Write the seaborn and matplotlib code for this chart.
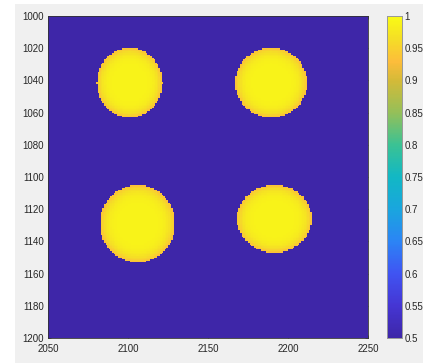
import numpy as np
import pandas as pd
import matplotlib
matplotlib.use("Agg")
import matplotlib.pyplot as plt
from matplotlib.colors import LinearSegmentedColormap
from matplotlib.patches import Rectangle
import seaborn as sns

# Blob centres and radii (data units)
blob_cx = [2101.0, 2189.5, 2106.0, 2191.5]
blob_cy = [1041.5, 1041.5, 1129.0, 1126.0]
blob_rx = [20.5, 22.5, 23.5, 23.5]
blob_ry = [21.7, 21.7, 24.0, 21.0]
inside_max = 0.99
rim_drop = 0.06
background = 0.5

x_ticks = [2050, 2100, 2150, 2200, 2250]
y_ticks = [1000, 1020, 1040, 1060, 1080, 1100, 1120, 1140, 1160, 1180, 1200]
cbar_ticks = [0.5, 0.55, 0.6, 0.65, 0.7, 0.75, 0.8, 0.85, 0.9, 0.95, 1]
cbar_labels = ["0.5", "0.55", "0.6", "0.65", "0.7", "0.75", "0.8",
               "0.85", "0.9", "0.95", "1"]

# parula-like colormap
parula = LinearSegmentedColormap.from_list("parula", [
    (0.00, (0.2422, 0.1504, 0.6603)),
    (0.10, (0.27, 0.21, 0.83)),
    (0.20, (0.25, 0.33, 0.95)),
    (0.30, (0.17, 0.52, 0.96)),
    (0.40, (0.10, 0.65, 0.87)),
    (0.50, (0.07, 0.72, 0.77)),
    (0.60, (0.23, 0.76, 0.58)),
    (0.70, (0.58, 0.75, 0.35)),
    (0.80, (0.83, 0.73, 0.22)),
    (0.86, (0.99, 0.74, 0.23)),
    (0.93, (0.96, 0.87, 0.15)),
    (1.00, (0.9769, 0.9839, 0.0805)),
])

# build image grid (1 unit cells)
xc = np.arange(2050, 2250) + 0.5
yc = np.arange(1000, 1200) + 0.5
X, Y = np.meshgrid(xc, yc)
img = np.full(X.shape, background)
for cx, cy, rx, ry in zip(blob_cx, blob_cy, blob_rx, blob_ry):
    rho = np.sqrt(((X - cx) / rx) ** 2 + ((Y - cy) / ry) ** 2)
    inside = rho <= 1
    img[inside] = inside_max - rim_drop * rho[inside] ** 6
df = pd.DataFrame(img, index=yc, columns=xc)

sns.set_style("white")
plt.rcParams['font.family'] = ['Liberation Sans', 'DejaVu Sans']

fig = plt.figure(figsize=(4.23, 3.64), dpi=100, facecolor="white")
fig.patches.append(Rectangle((15 / 423, 1 / 364), 408 / 423, 359 / 364,
                             transform=fig.transFigure, facecolor="#f0f0f0",
                             edgecolor="none", zorder=-10))
ax = fig.add_axes([48 / 423, 1 - 338 / 364, 320 / 423, 322 / 364])
cax = fig.add_axes([387 / 423, 1 - 338 / 364, 15 / 423, 322 / 364])

sns.heatmap(df, ax=ax, cbar_ax=cax, cmap=parula, vmin=0.5, vmax=1,
            xticklabels=False, yticklabels=False, rasterized=True)

ax.set_xticks([t - 2050 for t in x_ticks])
ax.set_xticklabels([str(t) for t in x_ticks])
ax.set_yticks([t - 1000 for t in y_ticks])
ax.set_yticklabels([str(t) for t in y_ticks], rotation=0)
ax.set_xlabel("")
ax.set_ylabel("")
for sp in ax.spines.values():
    sp.set_visible(True)
    sp.set_color("#333333")
    sp.set_linewidth(0.6)
ax.tick_params(direction="in", length=2.5, width=0.5, color="#333333",
               labelsize=7, labelcolor="#262626", top=True, right=True,
               bottom=True, left=True)
ax.tick_params(axis="x", pad=4)
ax.tick_params(axis="y", pad=3)

cax.set_yticks(cbar_ticks)
cax.set_yticklabels(cbar_labels)
cax.tick_params(direction="in", length=2.5, width=0.5, color="#999999",
                labelsize=7, labelcolor="#262626", pad=2)
for sp in cax.spines.values():
    sp.set_visible(True)
    sp.set_color("#999999")
    sp.set_linewidth(0.6)

fig.savefig("out.png", dpi=100, facecolor=fig.get_facecolor())
